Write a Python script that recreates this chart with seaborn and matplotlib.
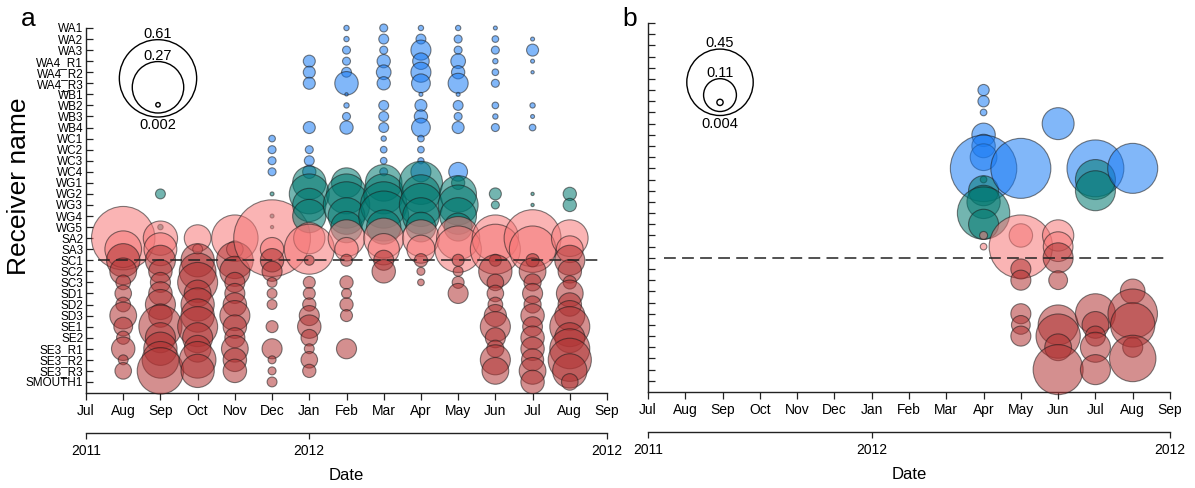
import numpy as np
import pandas as pd
import matplotlib
matplotlib.use("Agg")
import matplotlib.pyplot as plt
import seaborn as sns

# ---------------- data ----------------
receivers = ['WA1', 'WA2', 'WA3', 'WA4_R1', 'WA4_R2', 'WA4_R3', 'WB1', 'WB2', 'WB3', 'WB4',
             'WC1', 'WC2', 'WC3', 'WC4', 'WG1', 'WG2', 'WG3', 'WG4', 'WG5', 'SA2', 'SA3',
             'SC1', 'SC2', 'SC3', 'SD1', 'SD2', 'SD3', 'SE1', 'SE2', 'SE3_R1', 'SE3_R2',
             'SE3_R3', 'SMOUTH1']
month_keys = ['Jul 2011', 'Aug 2011', 'Sep 2011', 'Oct 2011', 'Nov 2011', 'Dec 2011',
              'Jan 2012', 'Feb 2012', 'Mar 2012', 'Apr 2012', 'May 2012', 'Jun 2012',
              'Jul 2012', 'Aug 2012', 'Sep 2012']
month_labels = ['Jul', 'Aug', 'Sep', 'Oct', 'Nov', 'Dec', 'Jan', 'Feb', 'Mar', 'Apr',
                'May', 'Jun', 'Jul', 'Aug', 'Sep']
year_keys = ['Jul 2011', 'Jan 2012', 'Sep 2012']
year_labels = ['2011', '2012', '2012']
threshold_receiver = 'SC1'

# panel a: proportion of detections per receiver and month
a_2011_08 = {'SA2': 0.41, 'SA3': 0.137, 'SC1': 0.113, 'SC2': 0.073, 'SC3': 0.022, 'SD1': 0.028,
             'SD2': 0.022, 'SD3': 0.073, 'SE1': 0.036, 'SE2': 0.018, 'SE3_R1': 0.056,
             'SE3_R2': 0.010, 'SE3_R3': 0.028}
a_2011_09 = {'WG2': 0.010, 'WG5': 0.003, 'SA2': 0.12, 'SA3': 0.11, 'SC1': 0.092, 'SC2': 0.056,
             'SC3': 0.041, 'SD1': 0.056, 'SD2': 0.092, 'SD3': 0.056, 'SE1': 0.19, 'SE2': 0.092,
             'SE3_R1': 0.113, 'SE3_R2': 0.137, 'SE3_R3': 0.22}
a_2011_10 = {'SA2': 0.073, 'SA3': 0.010, 'SC1': 0.113, 'SC2': 0.137, 'SC3': 0.163, 'SD1': 0.073,
             'SD2': 0.113, 'SD3': 0.113, 'SE1': 0.163, 'SE2': 0.092, 'SE3_R1': 0.073,
             'SE3_R2': 0.137, 'SE3_R3': 0.113}
a_2011_11 = {'SA2': 0.22, 'SA3': 0.028, 'SC1': 0.137, 'SC2': 0.092, 'SC3': 0.041, 'SD1': 0.041,
             'SD2': 0.056, 'SD3': 0.092, 'SE1': 0.056, 'SE2': 0.041, 'SE3_R1': 0.073,
             'SE3_R2': 0.056, 'SE3_R3': 0.056}
a_2011_12 = {'WC1': 0.0045, 'WC2': 0.0065, 'WC3': 0.0065, 'WC4': 0.0065, 'WG2': 0.0016,
             'WG4': 0.0016, 'WG5': 0.0011, 'SA2': 0.60, 'SA3': 0.056, 'SC1': 0.056, 'SC2': 0.041,
             'SC3': 0.010, 'SD1': 0.010, 'SD2': 0.010, 'SE1': 0.0147, 'SE3_R1': 0.041,
             'SE3_R2': 0.0065, 'SE3_R3': 0.0065, 'SMOUTH1': 0.010}
a_2012_01 = {'WA4_R1': 0.0147, 'WA4_R2': 0.0147, 'WA4_R3': 0.0147, 'WB4': 0.0147, 'WC2': 0.0065,
             'WC3': 0.010, 'WC4': 0.018, 'WG1': 0.113, 'WG2': 0.163, 'WG3': 0.113, 'WG4': 0.113,
             'SA2': 0.10, 'SA3': 0.255, 'SC1': 0.010, 'SC3': 0.0147, 'SD1': 0.0147, 'SD2': 0.018,
             'SD3': 0.041, 'SE1': 0.056, 'SE2': 0.028, 'SE3_R1': 0.010, 'SE3_R2': 0.028,
             'SE3_R3': 0.018}
a_2012_02 = {'WA1': 0.0029, 'WA2': 0.0029, 'WA3': 0.0065, 'WA4_R1': 0.0065, 'WA4_R2': 0.010,
             'WA4_R3': 0.056, 'WB1': 0.0011, 'WB2': 0.0029, 'WB3': 0.0065, 'WB4': 0.018,
             'WG1': 0.092, 'WG2': 0.163, 'WG3': 0.22, 'WG4': 0.137, 'WG5': 0.10, 'SA2': 0.137,
             'SA3': 0.056, 'SC1': 0.0147, 'SC3': 0.018, 'SD1': 0.010, 'SD2': 0.018,
             'SD3': 0.0147, 'SE3_R1': 0.041}
a_2012_03 = {'WA1': 0.0065, 'WA2': 0.010, 'WA3': 0.0065, 'WA4_R1': 0.018, 'WA4_R2': 0.022,
             'WA4_R3': 0.018, 'WB2': 0.010, 'WB3': 0.010, 'WB4': 0.010, 'WC1': 0.0029,
             'WC2': 0.0045, 'WC3': 0.0045, 'WC4': 0.0065, 'WG1': 0.137, 'WG2': 0.163,
             'WG3': 0.22, 'WG4': 0.255, 'WG5': 0.12, 'SA2': 0.163, 'SA3': 0.10, 'SC1': 0.041,
             'SC2': 0.056}
a_2012_04 = {'WA1': 0.0029, 'WA2': 0.010, 'WA3': 0.041, 'WA4_R1': 0.028, 'WA4_R2': 0.041,
             'WA4_R3': 0.036, 'WB1': 0.0016, 'WB2': 0.0147, 'WB3': 0.018, 'WB4': 0.036,
             'WC1': 0.0045, 'WC2': 0.0045, 'WC3': 0.004, 'WC4': 0.041, 'WG1': 0.19, 'WG2': 0.15,
             'WG3': 0.19, 'WG4': 0.137, 'WG5': 0.09, 'SA2': 0.137, 'SA3': 0.08, 'SC1': 0.018,
             'SC2': 0.0065, 'SC3': 0.0045}
a_2012_05 = {'WA1': 0.0029, 'WA2': 0.0065, 'WA3': 0.0065, 'WA4_R1': 0.022, 'WA4_R2': 0.018,
             'WA4_R3': 0.041, 'WB1': 0.0016, 'WB2': 0.010, 'WB3': 0.0065, 'WB4': 0.0147,
             'WC4': 0.036, 'WG1': 0.018, 'WG2': 0.137, 'WG3': 0.163, 'WG4': 0.137, 'WG5': 0.08,
             'SA2': 0.19, 'SA3': 0.22, 'SC1': 0.0147, 'SC2': 0.010, 'SC3': 0.0147, 'SD1': 0.041}
a_2012_06 = {'WA1': 0.0016, 'WA2': 0.0045, 'WA3': 0.0065, 'WA4_R1': 0.0029, 'WA4_R2': 0.0045,
             'WA4_R3': 0.0065, 'WB2': 0.0045, 'WB3': 0.0029, 'WB4': 0.0065, 'WG2': 0.0147,
             'WG3': 0.0065, 'SA2': 0.22, 'SA3': 0.255, 'SC1': 0.0147, 'SC2': 0.113, 'SC3': 0.028,
             'SD1': 0.028, 'SD2': 0.022, 'SD3': 0.05, 'SE1': 0.092, 'SE2': 0.041, 'SE3_R1': 0.03,
             'SE3_R2': 0.092, 'SE3_R3': 0.073}
a_2012_07 = {'WA2': 0.0016, 'WA3': 0.0147, 'WA4_R1': 0.0016, 'WA4_R2': 0.0011, 'WB2': 0.0029,
             'WB3': 0.0016, 'WB4': 0.0045, 'WG2': 0.0011, 'WG3': 0.0011, 'SA2': 0.33, 'SA3': 0.22,
             'SC1': 0.018, 'SC2': 0.073, 'SC3': 0.03, 'SD1': 0.041, 'SD2': 0.03, 'SD3': 0.056,
             'SE1': 0.04, 'SE2': 0.056, 'SE3_R1': 0.056, 'SE3_R2': 0.05, 'SE3_R3': 0.073,
             'SMOUTH1': 0.056}
a_2012_08 = {'WG2': 0.018, 'WG3': 0.018, 'SA2': 0.137, 'SA3': 0.073, 'SC1': 0.092, 'SC2': 0.056,
             'SC3': 0.018, 'SD1': 0.073, 'SD2': 0.056, 'SD3': 0.092, 'SE1': 0.163, 'SE2': 0.092,
             'SE3_R1': 0.163, 'SE3_R2': 0.19, 'SE3_R3': 0.12, 'SMOUTH1': 0.028}

# panel b
b_2012_04 = {'WB1': 0.013, 'WB2': 0.013, 'WB3': 0.0045, 'WC1': 0.056, 'WC2': 0.056, 'WC3': 0.073,
             'WC4': 0.45, 'WG1': 0.0045, 'WG2': 0.092, 'WG3': 0.113, 'WG4': 0.28, 'WG5': 0.092,
             'SA2': 0.0065, 'SA3': 0.0045}
b_2012_05 = {'WC4': 0.367, 'SA2': 0.056, 'SA3': 0.41, 'SC2': 0.041, 'SC3': 0.041, 'SD3': 0.041,
             'SE1': 0.036, 'SE2': 0.041}
b_2012_06 = {'WB4': 0.104, 'SA2': 0.10, 'SA3': 0.09, 'SC1': 0.092, 'SC3': 0.036, 'SE1': 0.163,
             'SE2': 0.20, 'SE3_R1': 0.073, 'SE3_R3': 0.255}
b_2012_07 = {'WC4': 0.33, 'WG1': 0.163, 'WG2': 0.163, 'SD3': 0.163, 'SE1': 0.073, 'SE2': 0.041,
             'SE3_R1': 0.092, 'SE3_R3': 0.092}
b_2012_08 = {'WC4': 0.255, 'SD1': 0.062, 'SD3': 0.25, 'SE1': 0.20, 'SE3_R1': 0.041,
             'SE3_R2': 0.22}

panel_a_months = {'Aug 2011': a_2011_08, 'Sep 2011': a_2011_09, 'Oct 2011': a_2011_10,
                  'Nov 2011': a_2011_11, 'Dec 2011': a_2011_12, 'Jan 2012': a_2012_01,
                  'Feb 2012': a_2012_02, 'Mar 2012': a_2012_03, 'Apr 2012': a_2012_04,
                  'May 2012': a_2012_05, 'Jun 2012': a_2012_06, 'Jul 2012': a_2012_07,
                  'Aug 2012': a_2012_08}
panel_b_months = {'Apr 2012': b_2012_04, 'May 2012': b_2012_05, 'Jun 2012': b_2012_06,
                  'Jul 2012': b_2012_07, 'Aug 2012': b_2012_08}

key_a_values = [0.61, 0.27, 0.002]
key_a_labels = ['0.61', '0.27', '0.002']
key_b_values = [0.45, 0.11, 0.004]
key_b_labels = ['0.45', '0.11', '0.004']

# ---------------- style ----------------
W, H, DPI = 1195, 488, 100
R1 = 49.5                                  # radius (px) of a bubble with value 1
SMAX = (2 * R1 * 72.0 / DPI) ** 2          # marker area (pt^2) for value 1
palette = {'W': '#1a7cf5', 'WG': '#007870', 'SA': '#f67777', 'S': '#b13434'}
hue_order = ['W', 'WG', 'SA', 'S']


def group_of(rec):
    if rec.startswith('WG'):
        return 'WG'
    if rec.startswith('W'):
        return 'W'
    if rec.startswith('SA'):
        return 'SA'
    return 'S'


sns.set_theme(style='ticks')
plt.rcParams['font.family'] = ['Liberation Sans', 'DejaVu Sans']
plt.rcParams['lines.scale_dashes'] = False
for k in ['text.color', 'axes.labelcolor', 'xtick.color', 'ytick.color']:
    plt.rcParams[k] = 'black'
AX_COL = '#222222'

fig = plt.figure(figsize=(W / DPI, H / DPI), dpi=DPI)


def px_axes(x0, y0, x1, y1):
    return fig.add_axes([x0 / W, 1 - y1 / H, (x1 - x0) / W, (y1 - y0) / H])


def build_frame(months):
    rows = []
    for key, d in months.items():
        for rec, v in d.items():
            rows.append(dict(x=month_keys.index(key), y=receivers.index(rec), value=v,
                             group=group_of(rec)))
    return pd.DataFrame(rows)


def draw_key(cx, bottom, values, labels):
    kw, kh = 130, 130
    kax = px_axes(cx - kw / 2, bottom + 25 - kh, cx + kw / 2, bottom + 25)
    kax.set_xlim(-kw / 2, kw / 2)
    kax.set_ylim(0, kh)
    kax.axis('off')
    gaps = [0, 4, 10]
    radii = [R1 * np.sqrt(v) for v in values]
    ys = [25 + g + r for g, r in zip(gaps, radii)]
    kdf = pd.DataFrame(dict(x=[0.0] * len(values), y=ys, value=values))
    sns.scatterplot(data=kdf, x='x', y='y', size='value', sizes=(0, SMAX), size_norm=(0, 1),
                    color='black', edgecolor='black', linewidth=1.0, legend=False,
                    clip_on=False, ax=kax)
    coll = kax.collections[-1]
    coll.set_facecolor('none')
    coll.set_edgecolor('black')
    kax.set_xlabel('')
    kax.set_ylabel('')
    fs = 10.5
    kax.text(0, ys[0] + radii[0] - 1, labels[0], ha='center', va='bottom', fontsize=fs)
    kax.text(0, ys[1] + radii[1] - 1, labels[1], ha='center', va='bottom', fontsize=fs)
    kax.text(0, 25 - 1, labels[2], ha='center', va='top', fontsize=fs)


def draw_panel(ax, months, show_ylabels, dash_span):
    df = build_frame(months)
    sns.scatterplot(data=df, x='x', y='y', hue='group', hue_order=hue_order, palette=palette,
                    size='value', sizes=(0, SMAX), size_norm=(0, 1), alpha=0.55,
                    edgecolor='#1a1a1a', linewidth=0.8, legend=False, clip_on=False,
                    zorder=3, ax=ax)
    ax.set_xlim(0, len(month_keys) - 1)
    ax.set_ylim(len(receivers), 0)
    ax.set_xticks(range(len(month_keys)))
    ax.set_xticklabels(month_labels)
    ax.set_yticks(range(len(receivers)))
    ax.set_yticklabels(receivers if show_ylabels else [])
    ax.tick_params(axis='y', direction='in', length=5, width=0.9, labelsize=8.5, pad=2,
                   color=AX_COL)
    ax.tick_params(axis='x', direction='out', length=5, width=0.9, labelsize=10, pad=3,
                   color=AX_COL)
    for s in ['top', 'right']:
        ax.spines[s].set_visible(False)
    for s in ['left', 'bottom']:
        ax.spines[s].set_color(AX_COL)
        ax.spines[s].set_linewidth(1.0)
    ax.set_xlabel('')
    ax.set_ylabel('')
    ax.axhline(receivers.index(threshold_receiver), xmin=dash_span[0], xmax=dash_span[1],
               color='#222222', lw=1.1, ls=(0, (8.5, 4.5)), zorder=4)

    ax2 = ax.twiny()
    ax2.set_xlim(0, len(month_keys) - 1)
    ax2.xaxis.set_ticks_position('bottom')
    ax2.xaxis.set_label_position('bottom')
    ax2.spines['bottom'].set_position(('outward', 28.8))
    for s in ['top', 'left', 'right']:
        ax2.spines[s].set_visible(False)
    ax2.spines['bottom'].set_color(AX_COL)
    ax2.spines['bottom'].set_linewidth(1.0)
    ax2.set_xticks([month_keys.index(k) for k in year_keys])
    ax2.set_xticklabels(year_labels)
    ax2.tick_params(axis='x', direction='out', length=4, width=0.9, labelsize=10, pad=4,
                    color=AX_COL)
    ax2.set_xlabel('Date', fontsize=12, labelpad=7)
    return ax


ax_a = px_axes(86, 28, 607, 393)
draw_panel(ax_a, panel_a_months, True, (0.023, 0.987))
ax_a.set_ylabel('Receiver name', fontsize=19)
ax_a.yaxis.set_label_coords(-0.106, 0.567)

ax_b = px_axes(648, 23, 1170, 392)
draw_panel(ax_b, panel_b_months, False, (0.03, 0.995))

draw_key(158, 117, key_a_values, key_a_labels)
draw_key(720, 115.5, key_b_values, key_b_labels)

fig.text(28 / W, 1 - 19 / H, 'a', fontsize=19, ha='center', va='center')
fig.text(630 / W, 1 - 19 / H, 'b', fontsize=19, ha='center', va='center')

fig.savefig('out.png', dpi=DPI)
